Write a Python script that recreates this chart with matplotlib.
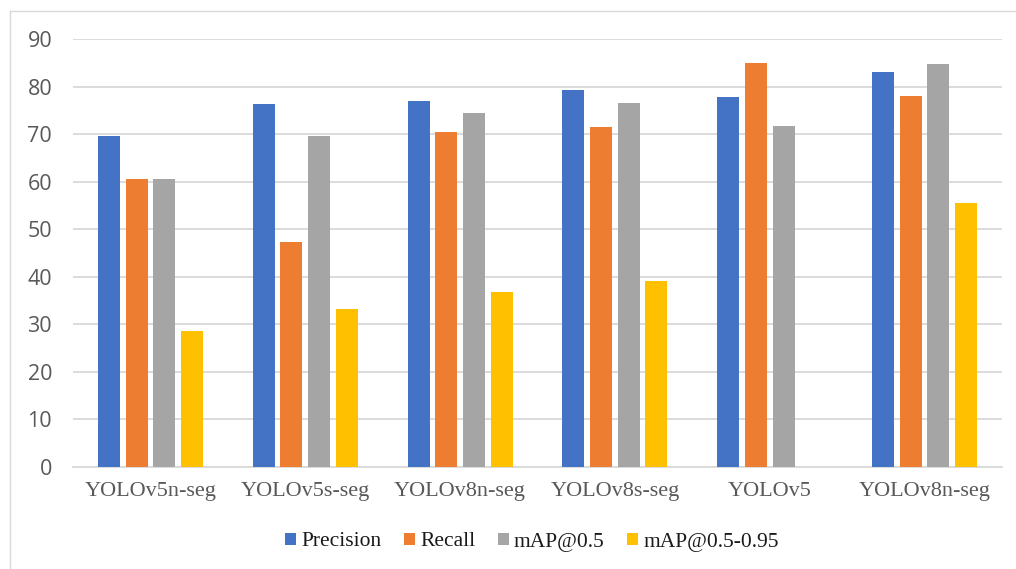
import matplotlib
matplotlib.use("Agg")
import matplotlib.pyplot as plt
from matplotlib.lines import Line2D
import numpy as np

categories = ["YOLOv5n-seg", "YOLOv5s-seg", "YOLOv8n-seg", "YOLOv8s-seg", "YOLOv5", "YOLOv8n-seg"]
precision = [69.7, 76.3, 76.9, 79.3, 77.9, 83.1]
recall = [60.5, 47.3, 70.4, 71.4, 84.9, 78.0]
map50 = [60.5, 69.7, 74.4, 76.5, 71.8, 84.7]
map50_95 = [28.6, 33.2, 36.7, 39.1, 0.0, 55.5]
series_names = ["Precision", "Recall", "mAP@0.5", "mAP@0.5-0.95"]
colors = ["#4472C4", "#ED7D31", "#A5A5A5", "#FFC000"]
yticks = [0, 10, 20, 30, 40, 50, 60, 70, 80, 90]

W, H = 1016, 569
fig = plt.figure(figsize=(W / 100, H / 100), dpi=100)
ax = fig.add_axes([73 / W, (H - 467) / H, (1002 - 73) / W, (467 - 39) / H])

x = np.arange(len(categories))
bw = 0.142
step = 0.179
series = [precision, recall, map50, map50_95]
for i, (vals, c, name) in enumerate(zip(series, colors, series_names)):
    ax.bar(x + (i - 1.5) * step, vals, width=bw, color=c, label=name, zorder=3)

ax.set_xlim(-0.5, len(categories) - 0.5)
ax.set_ylim(0, 90)
ax.set_yticks(yticks)
ax.yaxis.grid(True, color="#D9D9D9", linewidth=1.3, zorder=0)
ax.set_axisbelow(True)
for s in ["top", "right", "left"]:
    ax.spines[s].set_visible(False)
ax.spines["bottom"].set_color("#D9D9D9")
ax.spines["bottom"].set_linewidth(1.3)
ax.tick_params(axis="both", length=0)
ax.tick_params(axis="y", pad=15, labelsize=15.5, labelcolor="#595959")
ax.tick_params(axis="x", pad=11, labelsize=16, labelcolor="#595959")
for lbl in ax.get_yticklabels():
    lbl.set_fontfamily("Open Sans")
ax.set_xticks(x)
ax.set_xticklabels(categories, fontfamily="Liberation Serif")

leg = fig.legend(loc="center", bbox_to_anchor=(532 / W, (H - 542) / H), ncol=4, frameon=False,
                 prop={"family": "Liberation Serif", "size": 15.5}, handlelength=0.5, handleheight=0.5,
                 handletextpad=0.25, columnspacing=1.05)
for t in leg.get_texts():
    t.set_color("#1a1a1a")

# chart border
fig.add_artist(Line2D([9.5 / W, 9.5 / W], [0, 1 - 10.5 / H], transform=fig.transFigure, color="#D9D9D9", lw=1))
fig.add_artist(Line2D([9.5 / W, 1], [1 - 10.5 / H, 1 - 10.5 / H], transform=fig.transFigure, color="#D9D9D9", lw=1))

fig.savefig("out.png", dpi=100)
